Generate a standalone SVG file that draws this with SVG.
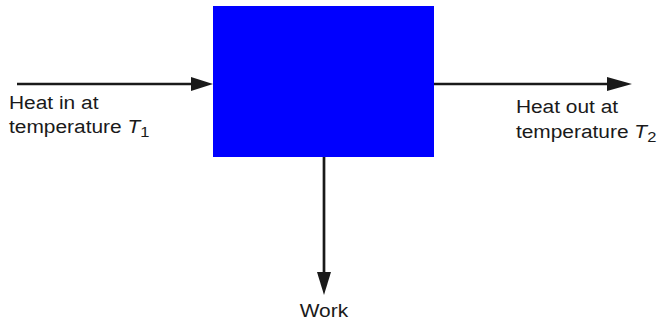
<svg xmlns="http://www.w3.org/2000/svg" width="657" height="322" viewBox="0 0 657 322">
<style>
text{font-family:"Liberation Sans",Arial,sans-serif;font-size:19px;fill:#1a1a1a}
.c{stroke:#1a1a1a;stroke-width:2.7;fill:none}
.h{fill:#1a1a1a}
</style>
<rect width="657" height="322" fill="#fff"/>
<g id="engine"><rect x="213" y="6" width="221" height="151" fill="#0000ff"/></g>
<g id="connectors">
<line class="c" x1="17" y1="84" x2="193" y2="84"/>
<polygon class="h" points="191,77 213,84 191,91"/>
<line class="c" x1="434" y1="84" x2="609" y2="84"/>
<polygon class="h" points="607,77 632,84 607,91"/>
<line class="c" x1="324" y1="157" x2="324" y2="274"/>
<polygon class="h" points="317,272 324,295 331,272"/>
</g>
<g id="heat-in" transform="scale(1.1,1)"><text x="8.2" y="109">Heat in at</text><text x="8.2" y="133">temperature <tspan font-style="italic">T</tspan><tspan font-size="15" dy="4">1</tspan></text></g>
<g id="heat-out" transform="scale(1.1,1)"><text x="469" y="113">Heat out at</text><text x="469" y="138">temperature <tspan font-style="italic">T</tspan><tspan font-size="15" dy="4">2</tspan></text></g>
<g id="work" transform="scale(1.1,1)"><text x="294.5" y="317" text-anchor="middle">Work</text></g>
</svg>
